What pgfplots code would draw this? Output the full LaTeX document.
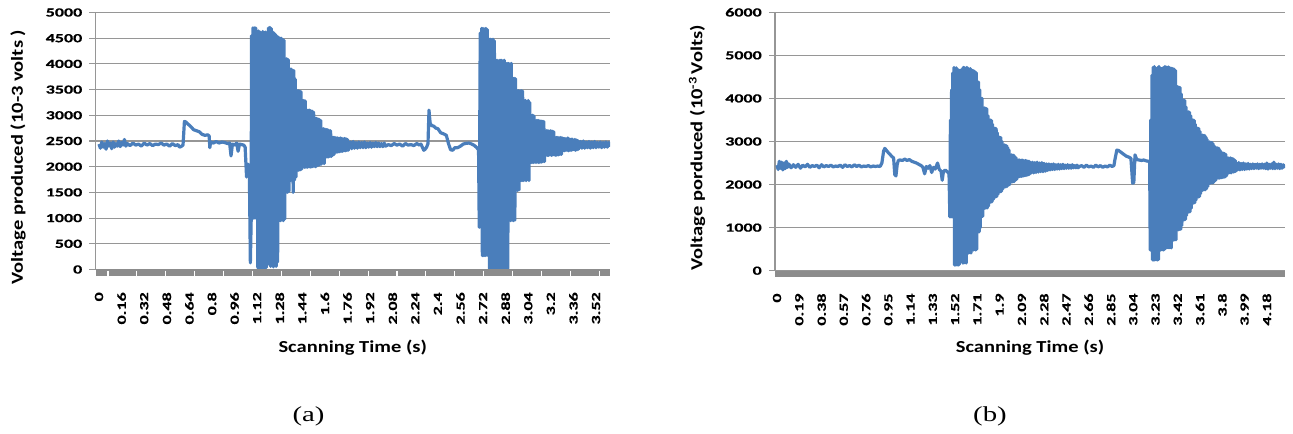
\documentclass[border=0pt]{standalone}
\usepackage{fontspec}
\usepackage{pgfplots}
\pgfplotsset{compat=1.18}
\setmainfont{Liberation Serif}
\newfontfamily\tickfam[FakeStretch=1.45,FakeBold=0.5]{Carlito}
\newfontfamily\titlefam[FakeStretch=1.22]{Carlito}
\newfontfamily\capfam[FakeStretch=1.35]{Liberation Serif}
\newcommand\tickfont{\tickfam\bfseries\fontsize{9.3pt}{11pt}\selectfont}
\newcommand\titlefont{\titlefam\bfseries\fontsize{12.6pt}{15pt}\selectfont}
\definecolor{exblue}{RGB}{74,126,187}
\definecolor{gridgray}{RGB}{150,150,150}
\definecolor{bandgray}{RGB}{140,140,140}
\pgfplotsset{mystyle/.style={
  scale only axis, enlargelimits=false,
  axis lines*=left,
  x axis line style={draw=none},
  y axis line style={draw=gridgray, line width=0.8pt},
  ymajorgrids, major grid style={draw=gridgray, line width=0.8pt},
  ytick style={draw=gridgray, line width=0.8pt},
  major tick length=4.5pt, tick align=outside,
  xtick style={draw=none},
  ticklabel style={font=\tickfont, text=black},
  yticklabel style={anchor=east, inner sep=0pt},
  yticklabel shift=5.25pt,
  xticklabel style={yshift=-12.4pt, rotate=90, anchor=east, inner sep=0pt},
  label style={font=\titlefont, text=black},
}}
\begin{document}
\begin{tikzpicture}
\useasboundingbox (0,0) rectangle (969.75pt,325.5pt);
% ---------------- panel (a)
\begin{axis}[mystyle,
  at={(71.625pt,123.375pt)}, anchor=south west,
  width=385.875pt, height=192.75pt,
  xmin=-0.0248, xmax=3.619, ymin=0, ymax=5000,
  ytick={0,500,1000,1500,2000,2500,3000,3500,4000,4500,5000},
  yticklabels={0,500,1000,1500,2000,2500,3000,3500,4000,4500,5000},
  xtick={0,0.16,0.32,0.48,0.64,0.8,0.96,1.12,1.28,1.44,1.6,1.76,1.92,2.08,2.24,2.4,2.56,2.72,2.88,3.04,3.2,3.36,3.52},
  xticklabels={0,0.16,0.32,0.48,0.64,0.8,0.96,1.12,1.28,1.44,1.6,1.76,1.92,2.08,2.24,2.4,2.56,2.72,2.88,3.04,3.2,3.36,3.52},
  xlabel={Scanning Time (s)},
  xlabel style={at={(axis description cs:0.5,-0.305)}, anchor=center},
  ylabel={Voltage produced (10-3 volts )},
  ylabel style={at={(axis description cs:-0.1506,0.4374)}, anchor=center},
  after end axis/.code={
    \fill[bandgray] (rel axis cs:0,0) rectangle ([yshift=-4.9pt]rel axis cs:1,0);
    \foreach \k in {0,...,17}{
      \pgfmathsetmacro\tt{0.0637+0.2047*\k}
      \draw[white, line width=0.8pt] ([yshift=-0.9pt]axis cs:\tt,0) -- ([yshift=-4.9pt]axis cs:\tt,0);
    }
  },
]
\addplot[exblue, line width=2.4pt, line join=round] coordinates {
(0,2440)(0.01,2360)(0.02,2480)(0.03,2380)(0.04,2450)(0.05,2340)(0.06,2500)(0.07,2400)(0.08,2460)(0.09,2350)
(0.10,2480)(0.11,2380)(0.12,2450)(0.13,2400)(0.14,2500)(0.15,2390)(0.16,2470)(0.17,2420)(0.18,2530)(0.19,2400)
(0.20,2450)(0.22,2410)(0.24,2460)(0.26,2420)(0.28,2440)(0.30,2400)(0.32,2460)(0.34,2420)(0.36,2450)(0.38,2410)
(0.40,2440)(0.42,2430)(0.44,2460)(0.46,2420)(0.48,2440)(0.50,2400)(0.52,2450)(0.54,2410)(0.56,2430)(0.57,2380)(0.58,2390)
(0.595,2420)(0.605,2880)(0.615,2870)(0.63,2830)(0.65,2780)(0.67,2720)(0.69,2700)(0.71,2680)(0.73,2630)(0.75,2610)
(0.77,2620)(0.78,2600)(0.785,2370)(0.79,2480)(0.81,2460)(0.83,2490)(0.85,2460)(0.87,2480)(0.89,2470)(0.91,2450)
(0.925,2460)(0.935,2210)(0.945,2440)(0.96,2420)(0.975,2460)(0.985,2300)(0.995,2440)(1.01,2430)(1.025,2420)(1.035,2380)
(1.045,1800)(1.055,2050)(1.065,1850)(1.072,130)(1.078,1000)
(1.080,4550)(1.085,1000)(1.090,4700)(1.095,1000)(1.100,4700)(1.105,1000)(1.110,4700)(1.115,1000)
(1.120,4620)(1.125,30)(1.130,4640)(1.135,10)(1.140,4620)(1.145,30)(1.150,4600)(1.155,10)
(1.160,4630)(1.165,20)(1.170,4610)(1.175,10)(1.180,4620)(1.185,40)(1.190,2900)(1.195,500)
(1.200,4700)(1.205,100)(1.210,4710)(1.215,60)(1.220,4690)(1.225,80)(1.230,4620)(1.235,50)
(1.240,4600)(1.245,120)(1.250,4570)(1.255,60)(1.260,4540)(1.265,150)(1.270,4520)(1.275,950)
(1.280,4500)(1.285,950)(1.290,4500)(1.295,960)(1.300,4480)(1.305,950)(1.310,4460)(1.315,980)
(1.320,4100)(1.325,1500)(1.330,4100)(1.335,1500)(1.340,4080)(1.345,1520)(1.350,3900)(1.355,1730)
(1.360,3900)(1.365,1730)(1.370,3880)(1.375,1500)(1.380,3870)(1.385,1740)(1.390,3700)(1.395,1800)
(1.400,3480)(1.405,1930)(1.410,3480)(1.415,1930)(1.420,3470)(1.425,1940)(1.430,3460)(1.435,1950)
(1.440,3290)(1.445,1990)(1.450,3290)(1.455,1990)(1.460,3280)(1.465,1990)(1.470,3100)(1.475,1990)
(1.480,3100)(1.485,2000)(1.490,3100)(1.495,1990)(1.500,3090)(1.505,2000)(1.510,3080)(1.515,2000)
(1.520,3060)(1.525,2010)(1.530,2940)(1.535,2000)(1.540,2940)(1.545,2020)(1.550,2930)(1.555,2030)
(1.560,2920)(1.565,2040)(1.570,2900)(1.575,2050)(1.580,2740)(1.585,2180)(1.590,2740)(1.595,2060)
(1.600,2730)(1.605,2180)(1.610,2720)(1.615,2190)(1.620,2720)(1.625,2190)(1.630,2700)(1.635,2200)
(1.640,2700)(1.645,2200)(1.650,2580)(1.655,2220)(1.660,2570)(1.665,2240)(1.670,2570)(1.675,2280)
(1.680,2560)(1.685,2280)(1.690,2560)(1.695,2290)(1.700,2550)(1.705,2290)(1.710,2560)(1.715,2300)
(1.720,2550)(1.725,2300)(1.730,2540)(1.735,2310)(1.740,2550)(1.745,2310)(1.750,2540)(1.755,2320)
(1.760,2530)(1.765,2320)(1.780,2480)(1.790,2350)(1.800,2490)(1.810,2360)(1.820,2470)(1.830,2360)
(1.840,2480)(1.850,2370)(1.860,2470)(1.870,2370)(1.880,2480)(1.890,2370)(1.900,2460)(1.910,2380)
(1.920,2470)(1.930,2380)(1.940,2460)(1.950,2390)(1.960,2470)(1.970,2390)(1.980,2460)(1.990,2390)
(2.000,2450)(2.010,2390)(2.020,2460)(2.030,2400)
(2.05,2430)(2.07,2410)(2.09,2450)(2.11,2420)(2.13,2440)(2.15,2400)(2.17,2450)(2.19,2420)(2.21,2430)(2.23,2410)
(2.25,2450)(2.27,2420)(2.28,2440)(2.29,2380)(2.30,2320)(2.31,2340)(2.32,2380)(2.33,2450)(2.337,3100)(2.345,2850)
(2.355,2800)(2.37,2790)(2.385,2750)(2.40,2740)(2.42,2660)(2.44,2640)(2.46,2610)(2.475,2450)(2.49,2330)(2.505,2320)
(2.52,2370)(2.54,2370)(2.56,2400)(2.58,2440)(2.60,2455)(2.62,2460)(2.64,2440)(2.66,2410)(2.675,2370)(2.688,2330)
(2.693,820)
(2.700,4600)(2.705,820)(2.710,4690)(2.715,270)(2.720,4690)(2.725,270)(2.730,4680)(2.735,270)
(2.740,4690)(2.745,280)(2.750,4670)(2.755,270)(2.760,4480)(2.765,20)(2.770,4480)(2.775,20)
(2.780,4470)(2.785,20)(2.790,4480)(2.795,20)(2.800,4450)(2.805,20)(2.810,4070)(2.815,20)
(2.820,4070)(2.825,20)(2.830,4060)(2.835,20)(2.840,4070)(2.845,1600)(2.850,4070)(2.855,20)
(2.860,4060)(2.865,20)(2.870,4070)(2.875,20)(2.880,4010)(2.885,20)(2.890,4010)(2.895,20)
(2.900,4010)(2.905,950)(2.910,4000)(2.915,950)(2.920,4010)(2.925,960)(2.930,3720)(2.935,950)
(2.940,3720)(2.945,960)(2.950,3710)(2.955,1540)(2.960,3480)(2.965,1540)(2.970,3480)(2.975,1550)
(2.980,3470)(2.985,1730)(2.990,3480)(2.995,1730)(3.000,3470)(3.005,1730)(3.010,3290)(3.015,1740)
(3.020,3290)(3.025,1730)(3.030,2500)(3.035,2000)(3.040,3290)(3.045,1730)(3.050,3250)(3.055,2080)
(3.060,3000)(3.065,2080)(3.070,3000)(3.075,2080)(3.080,2990)(3.085,2090)(3.090,2900)(3.095,2080)
(3.100,2900)(3.105,2090)(3.110,2900)(3.115,2080)(3.120,2890)(3.125,2090)(3.130,2890)(3.135,2090)
(3.140,2880)(3.145,2100)(3.150,2880)(3.155,2100)(3.160,2700)(3.165,2220)(3.170,2700)(3.175,2220)
(3.180,2700)(3.185,2220)(3.190,2690)(3.195,2230)(3.200,2700)(3.205,2220)(3.210,2690)(3.215,2230)
(3.220,2680)(3.225,2230)(3.230,2570)(3.235,2220)(3.240,2570)(3.245,2230)(3.250,2570)(3.255,2230)
(3.260,2560)(3.265,2240)(3.270,2570)(3.275,2240)(3.280,2560)(3.285,2310)(3.290,2550)(3.295,2310)
(3.300,2550)(3.305,2320)(3.310,2540)(3.315,2320)(3.320,2560)(3.325,2310)(3.330,2540)(3.335,2320)
(3.340,2530)(3.345,2320)(3.350,2540)(3.355,2330)(3.360,2520)(3.365,2330)(3.370,2530)(3.375,2320)
(3.380,2520)(3.385,2330)(3.390,2510)(3.395,2340)
(3.41,2490)(3.42,2360)(3.43,2500)(3.44,2360)(3.45,2480)(3.46,2370)(3.47,2490)(3.48,2360)
(3.49,2480)(3.50,2370)(3.51,2490)(3.52,2370)(3.53,2470)(3.54,2380)(3.55,2480)(3.56,2370)
(3.57,2470)(3.58,2380)(3.59,2480)(3.60,2380)(3.61,2470)(3.62,2390)
};
\end{axis}
% ---------------- panel (b)
\begin{axis}[mystyle,
  at={(581.25pt,122.475pt)}, anchor=south west,
  width=382.5pt, height=193.8pt,
  xmin=-0.017, xmax=4.335, ymin=0, ymax=6000,
  ytick={0,1000,2000,3000,4000,5000,6000},
  yticklabels={0,1000,2000,3000,4000,5000,6000},
  xtick={0,0.19,0.38,0.57,0.76,0.95,1.14,1.33,1.52,1.71,1.9,2.09,2.28,2.47,2.66,2.85,3.04,3.23,3.42,3.61,3.8,3.99,4.18},
  xticklabels={0,0.19,0.38,0.57,0.76,0.95,1.14,1.33,1.52,1.71,1.9,2.09,2.28,2.47,2.66,2.85,3.04,3.23,3.42,3.61,3.8,3.99,4.18},
  xlabel={Scanning Time (s)},
  xlabel style={at={(axis description cs:0.5,-0.299)}, anchor=center},
  ylabel={Voltage porduced (10\textsuperscript{-3}\,Volts)},
  ylabel style={at={(axis description cs:-0.153,0.475)}, anchor=center},
  after end axis/.code={
    \fill[bandgray] (rel axis cs:0,0) rectangle ([yshift=-4.5pt]rel axis cs:1,0);
  },
]
\addplot[exblue, line width=2.4pt, line join=round] coordinates {
(0,2450)(0.01,2350)(0.02,2540)(0.03,2380)(0.04,2520)(0.05,2340)(0.06,2500)(0.07,2370)(0.08,2540)(0.09,2400)
(0.10,2480)(0.12,2390)(0.14,2460)(0.16,2400)(0.18,2470)(0.20,2380)(0.22,2450)(0.24,2410)(0.26,2470)(0.28,2400)
(0.30,2440)(0.32,2420)(0.34,2450)(0.36,2390)(0.38,2460)(0.40,2410)(0.42,2440)(0.44,2420)(0.46,2450)(0.48,2410)
(0.50,2430)(0.52,2420)(0.54,2450)(0.56,2400)(0.58,2460)(0.60,2420)(0.62,2440)(0.64,2410)(0.66,2460)(0.68,2420)
(0.70,2450)(0.72,2410)(0.74,2430)(0.76,2420)(0.78,2440)(0.80,2410)(0.82,2430)(0.84,2420)(0.86,2430)(0.88,2420)
(0.895,2500)(0.91,2780)(0.92,2840)(0.935,2790)(0.95,2740)(0.965,2700)(0.98,2650)(0.995,2620)(1.005,2230)(1.015,2200)
(1.025,2450)(1.035,2560)(1.05,2570)(1.07,2560)(1.09,2590)(1.11,2560)(1.13,2580)(1.15,2540)(1.17,2520)(1.19,2500)
(1.21,2470)(1.23,2440)(1.245,2400)(1.26,2250)(1.275,2420)(1.29,2380)(1.305,2440)(1.32,2280)(1.335,2400)(1.35,2360)
(1.37,2500)(1.385,2350)(1.40,2310)(1.41,2100)(1.42,2300)(1.435,2340)(1.45,2300)(1.46,2280)(1.468,2250)(1.475,1250)
(1.480,3500)(1.485,1250)(1.490,4200)(1.495,1250)(1.500,4590)(1.505,1250)(1.510,4720)(1.515,130)
(1.520,4700)(1.525,130)(1.530,4710)(1.535,140)(1.540,4680)(1.545,130)(1.550,4660)(1.555,140)
(1.560,4650)(1.565,640)(1.570,4660)(1.575,640)(1.580,4680)(1.585,180)(1.590,4720)(1.595,180)
(1.600,4710)(1.605,190)(1.610,4700)(1.615,180)(1.620,4720)(1.625,410)(1.630,4700)(1.635,410)
(1.640,4680)(1.645,420)(1.650,4690)(1.655,410)(1.660,4660)(1.665,480)(1.670,4650)(1.675,480)
(1.680,4640)(1.685,490)(1.690,4620)(1.695,480)(1.700,4600)(1.705,500)(1.710,4380)(1.715,900)
(1.720,4380)(1.725,900)(1.730,4200)(1.735,1000)(1.740,4000)(1.745,1250)(1.750,4000)(1.755,1260)
(1.760,3780)(1.765,1450)(1.770,3780)(1.775,1450)(1.780,3770)(1.785,1460)(1.790,3760)(1.795,1460)
(1.800,3600)(1.805,1500)(1.810,3500)(1.815,1590)(1.820,3500)(1.825,1590)(1.830,3490)(1.835,1600)
(1.840,3400)(1.845,1650)(1.850,3310)(1.855,1710)(1.860,3310)(1.865,1710)(1.870,3300)(1.875,1720)
(1.880,3200)(1.885,1770)(1.890,3100)(1.895,1830)(1.900,3100)(1.905,1830)(1.910,3090)(1.915,1840)
(1.920,3000)(1.925,1890)(1.930,2920)(1.935,1940)(1.940,2920)(1.945,1940)(1.950,2910)(1.955,1950)
(1.960,2900)(1.965,1960)(1.970,2850)(1.975,1990)(1.980,2800)(1.985,2000)(1.990,2690)(1.995,2060)
(2.000,2690)(2.005,2060)(2.010,2680)(2.015,2070)(2.020,2680)(2.025,2070)(2.030,2650)(2.035,2100)
(2.040,2620)(2.045,2120)(2.050,2570)(2.055,2180)(2.060,2570)(2.065,2180)(2.070,2570)(2.075,2190)
(2.080,2560)(2.085,2190)(2.090,2570)(2.095,2200)(2.100,2560)(2.105,2200)(2.110,2550)(2.115,2210)
(2.120,2560)(2.125,2210)(2.130,2550)(2.135,2220)(2.140,2540)(2.145,2230)(2.150,2540)(2.155,2240)
(2.160,2520)(2.170,2270)(2.180,2520)(2.190,2270)(2.200,2510)(2.210,2280)(2.220,2520)(2.230,2290)
(2.240,2500)(2.250,2300)(2.260,2510)(2.270,2300)(2.280,2490)(2.290,2310)(2.300,2480)(2.310,2330)
(2.320,2480)(2.330,2340)(2.340,2470)(2.350,2350)(2.360,2480)(2.370,2350)(2.380,2460)(2.390,2360)
(2.400,2470)(2.410,2360)(2.420,2460)(2.430,2370)(2.440,2470)(2.450,2370)(2.460,2450)(2.470,2380)
(2.480,2460)(2.490,2380)(2.500,2450)(2.510,2380)(2.520,2460)(2.530,2390)(2.540,2440)(2.550,2390)
(2.560,2450)(2.570,2390)
(2.58,2420)(2.60,2440)(2.62,2400)(2.64,2450)(2.66,2410)(2.68,2430)(2.70,2400)(2.72,2450)(2.74,2410)(2.76,2440)
(2.78,2400)(2.80,2430)(2.82,2410)(2.84,2450)(2.86,2420)(2.875,2440)
(2.885,2600)(2.90,2800)(2.915,2790)(2.94,2740)(2.96,2700)(2.98,2660)(3.00,2640)(3.02,2610)(3.035,2030)(3.045,2050)
(3.055,2690)(3.07,2580)(3.09,2570)(3.11,2560)(3.13,2570)(3.15,2550)(3.17,2540)(3.18,2530)(3.185,480)
(3.190,3500)(3.195,480)(3.200,4540)(3.205,250)(3.210,4720)(3.215,250)(3.220,4740)(3.225,250)
(3.230,4700)(3.235,260)(3.240,4690)(3.245,250)(3.250,4720)(3.255,260)(3.260,4740)(3.265,480)
(3.270,4700)(3.275,480)(3.280,4690)(3.285,490)(3.290,4700)(3.295,480)(3.300,4720)(3.305,490)
(3.310,4740)(3.315,530)(3.320,4730)(3.325,530)(3.330,4720)(3.335,540)(3.340,4730)(3.345,530)
(3.350,4710)(3.355,540)(3.360,4700)(3.365,530)(3.370,4700)(3.375,710)(3.380,4690)(3.385,710)
(3.390,4680)(3.395,720)(3.400,4650)(3.405,720)(3.410,4270)(3.415,950)(3.420,4270)(3.425,950)
(3.430,4260)(3.435,960)(3.440,4250)(3.445,960)(3.450,4100)(3.455,1050)(3.460,3960)(3.465,1180)
(3.470,3960)(3.475,1180)(3.480,3950)(3.485,1190)(3.490,3800)(3.495,1280)(3.500,3690)(3.505,1360)
(3.510,3690)(3.515,1360)(3.520,3680)(3.525,1370)(3.530,3600)(3.535,1450)(3.540,3500)(3.545,1570)
(3.550,3500)(3.555,1570)(3.560,3490)(3.565,1580)(3.570,3400)(3.575,1640)(3.580,3310)(3.585,1710)
(3.590,3310)(3.595,1710)(3.600,3300)(3.605,1720)(3.610,3230)(3.615,1790)(3.620,3150)(3.625,1870)
(3.630,3150)(3.635,1870)(3.640,3140)(3.645,1880)(3.650,3140)(3.655,1880)(3.660,3100)(3.665,1900)
(3.670,3050)(3.675,1950)(3.680,2990)(3.685,2030)(3.690,2990)(3.695,2030)(3.700,2980)(3.705,2040)
(3.710,2980)(3.715,2040)(3.720,2950)(3.725,2050)(3.730,2900)(3.735,2080)(3.740,2870)(3.745,2100)
(3.750,2850)(3.755,2150)(3.760,2850)(3.765,2150)(3.770,2840)(3.775,2150)(3.780,2800)(3.785,2160)
(3.790,2760)(3.795,2160)(3.800,2730)(3.805,2170)(3.810,2730)(3.815,2170)(3.820,2720)(3.825,2180)
(3.830,2700)(3.835,2200)(3.840,2620)(3.845,2270)(3.850,2620)(3.855,2270)(3.860,2610)(3.865,2280)
(3.870,2620)(3.875,2270)(3.880,2600)(3.885,2290)(3.890,2600)(3.895,2290)(3.900,2580)(3.905,2300)
(3.910,2560)(3.915,2310)
(3.92,2500)(3.93,2340)(3.94,2510)(3.95,2340)(3.96,2490)(3.97,2350)(3.98,2500)(3.99,2350)
(4.00,2480)(4.01,2360)(4.02,2490)(4.03,2360)(4.04,2470)(4.05,2370)(4.06,2480)(4.07,2370)
(4.08,2470)(4.09,2380)(4.10,2480)(4.11,2370)(4.12,2470)(4.13,2380)(4.14,2480)(4.15,2380)
(4.16,2470)(4.17,2370)(4.18,2500)(4.19,2360)(4.20,2470)(4.21,2380)(4.22,2480)(4.23,2370)
(4.24,2520)(4.25,2370)(4.26,2470)(4.27,2380)(4.28,2480)(4.29,2370)(4.30,2470)(4.31,2380)(4.32,2460)(4.33,2380)
};
\end{axis}
\node[font=\capfam\fontsize{16pt}{18pt}\selectfont] at (231.4pt,13.5pt) {(a)};
\node[font=\capfam\fontsize{16pt}{18pt}\selectfont] at (742.5pt,13.5pt) {(b)};
\end{tikzpicture}
\end{document}
